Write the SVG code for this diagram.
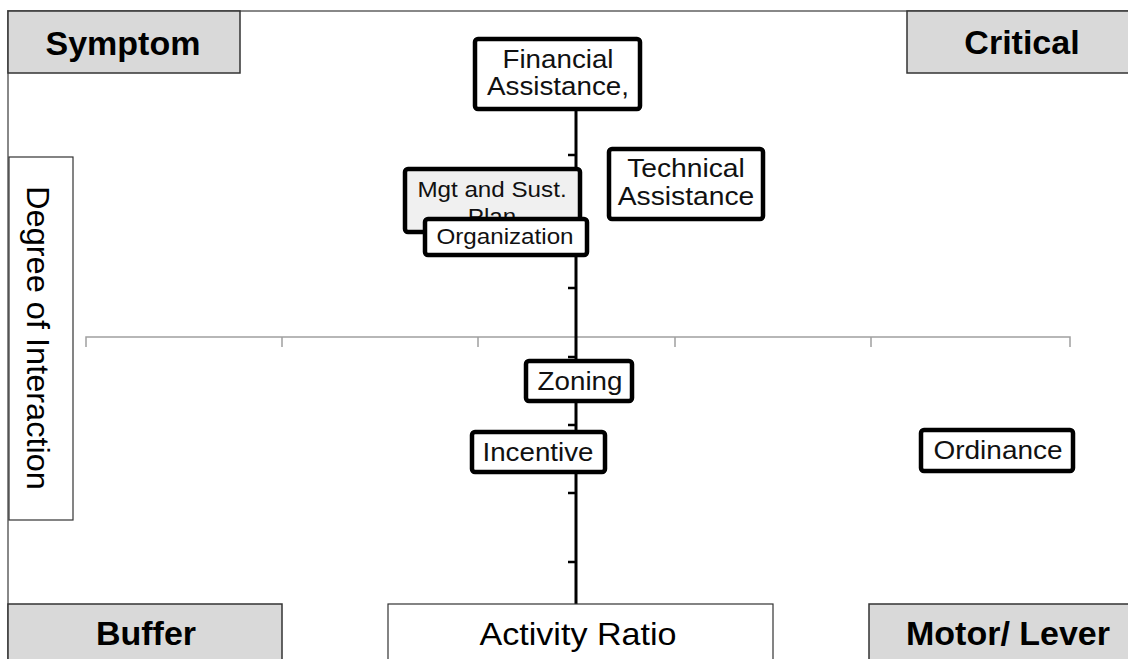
<svg xmlns="http://www.w3.org/2000/svg" width="1128" height="659" viewBox="0 0 1128 659">
<style>
.q{fill:#d9d9d9;stroke:#333;stroke-width:1.5}
.lbl{fill:#fff;stroke:#333;stroke-width:1.2}
.nd{fill:#fff;stroke:#000;stroke-width:4.5}
.b{font-family:"Liberation Sans",Arial,sans-serif;font-weight:bold;font-size:34px;fill:#000;text-anchor:middle}
.r{font-family:"Liberation Sans",Arial,sans-serif;font-size:31px;fill:#000;text-anchor:middle}
.t{font-family:"Liberation Sans",Arial,sans-serif;font-size:25px;fill:#111;text-anchor:middle}
.s{font-family:"Liberation Sans",Arial,sans-serif;font-size:22px;fill:#111;text-anchor:middle}
</style>
<rect width="1128" height="659" fill="#fff"/>
<g id="frame">
<path d="M8,659 V11 H1128" fill="none" stroke="#888" stroke-width="2"/>
</g>
<g id="connectors">
<path d="M86,347 V337 H1070 V347 M282,337 V347 M478,337 V347 M675,337 V347 M871,337 V347" fill="none" stroke="#a0a0a0" stroke-width="1.5"/>
<path d="M576,100 V604" fill="none" stroke="#000" stroke-width="3"/>
<path d="M568,155 H576 M568,222 H576 M568,288 H576 M568,357 H576 M568,425 H576 M568,493 H576 M568,562 H576" fill="none" stroke="#000" stroke-width="2.5"/>
</g>
<g id="symptom"><rect class="q" x="8" y="11" width="232" height="62"/><text class="b" x="123" y="55">Symptom</text></g>
<g id="critical"><rect class="q" x="907" y="11" width="230" height="62"/><text class="b" x="1022" y="54">Critical</text></g>
<g id="degree"><rect class="lbl" x="9" y="157" width="64" height="363"/><text class="r" transform="translate(27,338) rotate(90) scale(1.05,1)">Degree of Interaction</text></g>
<g id="buffer"><rect class="q" x="8" y="604" width="274" height="60"/><text class="b" x="146" y="645">Buffer</text></g>
<g id="activity"><rect class="lbl" x="388" y="604" width="385" height="60"/><text class="r" transform="translate(578,645) scale(1.1,1)">Activity Ratio</text></g>
<g id="motor"><rect class="q" x="869" y="604" width="265" height="60"/><text class="b" x="1008" y="645">Motor/ Lever</text></g>
<g id="financial"><rect class="nd" x="475" y="39" width="165" height="70" rx="3"/><text class="t" transform="translate(558,68) scale(1.11,1)">Financial</text><text class="t" transform="translate(558,95) scale(1.11,1)">Assistance,</text></g>
<g id="technical"><rect class="nd" x="609" y="149" width="154" height="70" rx="3"/><text class="t" transform="translate(686,177) scale(1.13,1)">Technical</text><text class="t" transform="translate(686,205) scale(1.13,1)">Assistance</text></g>
<g id="mgt"><rect x="405" y="169" width="175" height="63" rx="3" fill="#f0f0f0" stroke="#000" stroke-width="4.5"/><text class="s" transform="translate(492,197) scale(1.1,1)">Mgt and Sust.</text><text class="s" transform="translate(492,224) scale(1.1,1)">Plan</text></g>
<g id="organization"><rect class="nd" x="425" y="219" width="162" height="36" rx="3"/><text class="s" transform="translate(505,244) scale(1.1,1)">Organization</text></g>
<g id="zoning"><rect class="nd" x="526" y="361" width="106" height="40" rx="3"/><text class="t" transform="translate(580,390) scale(1.11,1)">Zoning</text></g>
<g id="incentive"><rect class="nd" x="472" y="432" width="133" height="40" rx="3"/><text class="t" transform="translate(538,461) scale(1.11,1)">Incentive</text></g>
<g id="ordinance"><rect class="nd" x="921" y="430" width="152" height="41" rx="3"/><text class="t" transform="translate(998,459) scale(1.12,1)">Ordinance</text></g>
</svg>
